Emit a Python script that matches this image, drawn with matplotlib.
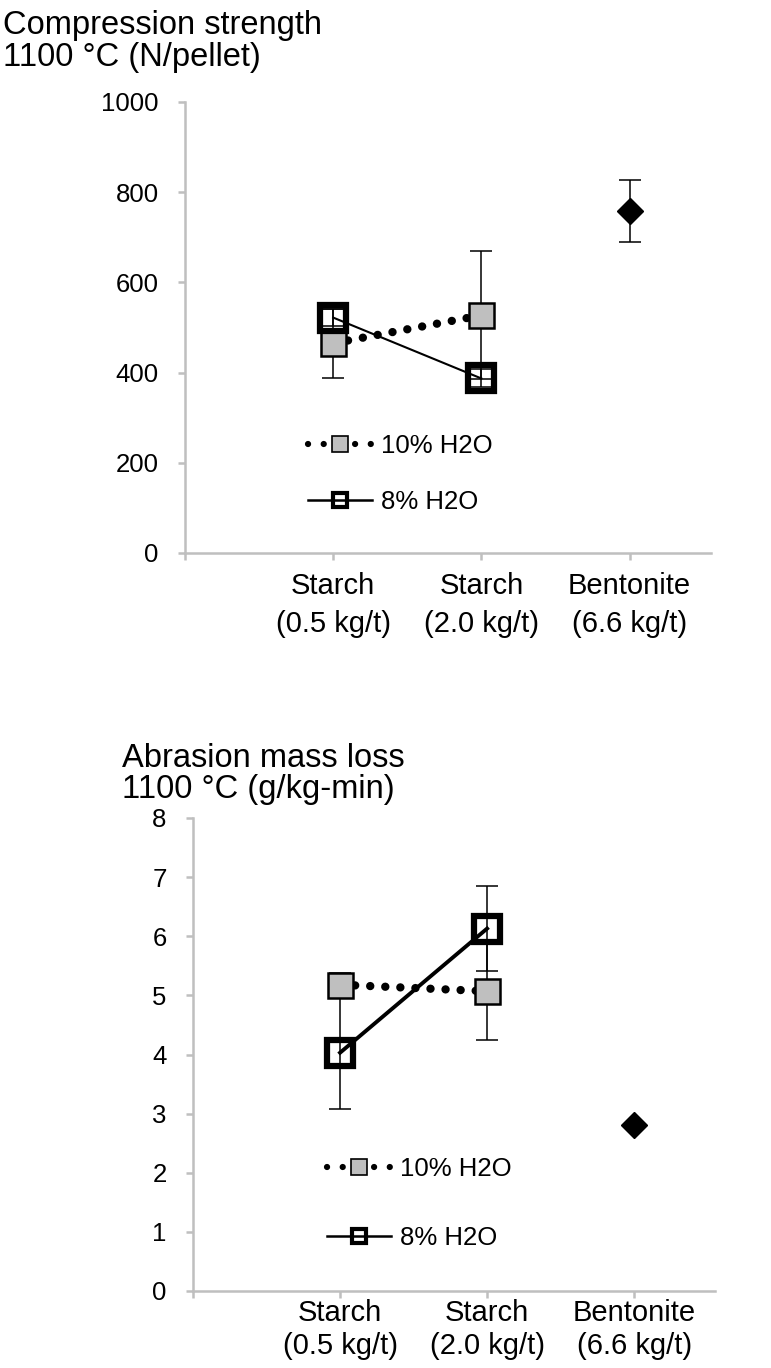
import numpy as np
import matplotlib.pyplot as plt
from matplotlib.lines import Line2D

plt.rcParams['font.family'] = ['Liberation Sans', 'DejaVu Sans']

# category labels (x positions 1..3, tick 0 sits on the y axis)
categories = ['Starch\n(0.5 kg/t)', 'Starch\n(2.0 kg/t)', 'Bentonite\n(6.6 kg/t)']
series_labels = ['10% H2O', '8% H2O']

# compression strength, N/pellet
strength_10 = [465, 527]
strength_10_err = [77, 142]
strength_8 = [522, 387]
strength_8_err = [18, 20]
strength_bent = [758]
strength_bent_err = [69]

# abrasion mass loss, g/kg-min
abrasion_10 = [5.18, 5.07]
abrasion_10_err = [0.2, 0.82]
abrasion_8 = [4.03, 6.13]
abrasion_8_err = [0.95, 0.72]
abrasion_bent = [2.8]
abrasion_bent_err = [0.0]

GRAY = '#bfbfbf'
AXIS = '#bfbfbf'

x_starch = np.arange(1, len(strength_10) + 1)
x_bent = [len(categories)]


def draw_panel(ax, v10, e10, v8, e8, vb, eb, lw8, ymax, ystep,
               legend_xy, legend_spacing, xpad, xls):
    ax.errorbar(x_starch, v10, yerr=e10, fmt='none', ecolor='black',
                elinewidth=1.1, capsize=8, capthick=1.1, zorder=2)
    ax.errorbar(x_starch, v8, yerr=e8, fmt='none', ecolor='black',
                elinewidth=1.1, capsize=8, capthick=1.1, zorder=2)
    ax.errorbar(x_bent, vb, yerr=eb, fmt='none', ecolor='black',
                elinewidth=1.1, capsize=8, capthick=1.1, zorder=2)

    ax.plot(x_starch, v10, color='black', lw=6, dashes=(0.01, 1.8),
            dash_capstyle='round', marker='s', ms=18, mfc=GRAY,
            mec='black', mew=1.8, zorder=3)
    ax.plot(x_starch, v8, color='black', lw=lw8, marker='s', ms=19,
            mfc='none', mec='black', mew=4.5, zorder=4)
    ax.plot(x_bent, vb, ls='none', marker='D', ms=13, color='black',
            zorder=4)

    ax.set_xlim(0, 3.55)
    ax.set_ylim(0, ymax)
    ax.set_yticks(np.arange(0, ymax + ystep / 2, ystep))
    ax.set_xticks(np.arange(0, len(categories) + 1))
    ax.set_xticklabels([''] + categories)
    for lbl in ax.get_xticklabels():
        lbl.set_linespacing(xls)

    for side in ['top', 'right']:
        ax.spines[side].set_visible(False)
    for side in ['left', 'bottom']:
        ax.spines[side].set_color(AXIS)
        ax.spines[side].set_linewidth(1.8)
    ax.tick_params(axis='both', color=AXIS, width=1.8, length=5,
                   direction='out')
    ax.tick_params(axis='y', labelsize=18.5, pad=14)
    ax.tick_params(axis='x', labelsize=21, pad=xpad)

    handles = [
        Line2D([], [], color='black', lw=4.5, dashes=(0.01, 2.5),
               dash_capstyle='round', marker='s', ms=12, mfc=GRAY,
               mec='black', mew=1.2),
        Line2D([], [], color='black', lw=1.8, marker='s', ms=10,
               mfc='none', mec='black', mew=3),
    ]
    ax.legend(handles, series_labels, loc='center left',
              bbox_to_anchor=legend_xy, frameon=False, fontsize=18.5,
              handlelength=2.5, handletextpad=0.35,
              labelspacing=legend_spacing, borderpad=0, borderaxespad=0)


fig = plt.figure(figsize=(7.71, 13.68), dpi=100)
W, H = 771, 1368

ax1 = fig.add_axes([185 / W, 1 - 553 / H, 526 / W, 451 / H])
ax2 = fig.add_axes([193 / W, 1 - 1291 / H, 522 / W, 473 / H])

draw_panel(ax1, strength_10, strength_10_err, strength_8, strength_8_err,
           strength_bent, strength_bent_err, 1.5, 1000, 200,
           (0.234, 0.176), 1.25, 9, 1.42)
draw_panel(ax2, abrasion_10, abrasion_10_err, abrasion_8, abrasion_8_err,
           abrasion_bent, abrasion_bent_err, 2.8, 8, 1,
           (0.257, 0.186), 1.75, 1, 1.22)

fig.text(3 / W, 1 - 34 / H, 'Compression strength', fontsize=23.5,
         ha='left', va='baseline')
fig.text(3 / W, 1 - 66 / H, '1100 °C (N/pellet)', fontsize=23.5,
         ha='left', va='baseline')
fig.text(122 / W, 1 - 767 / H, 'Abrasion mass loss', fontsize=23.5,
         ha='left', va='baseline')
fig.text(122 / W, 1 - 798 / H, '1100 °C (g/kg-min)', fontsize=23.5,
         ha='left', va='baseline')

fig.savefig('out.png', dpi=100)
